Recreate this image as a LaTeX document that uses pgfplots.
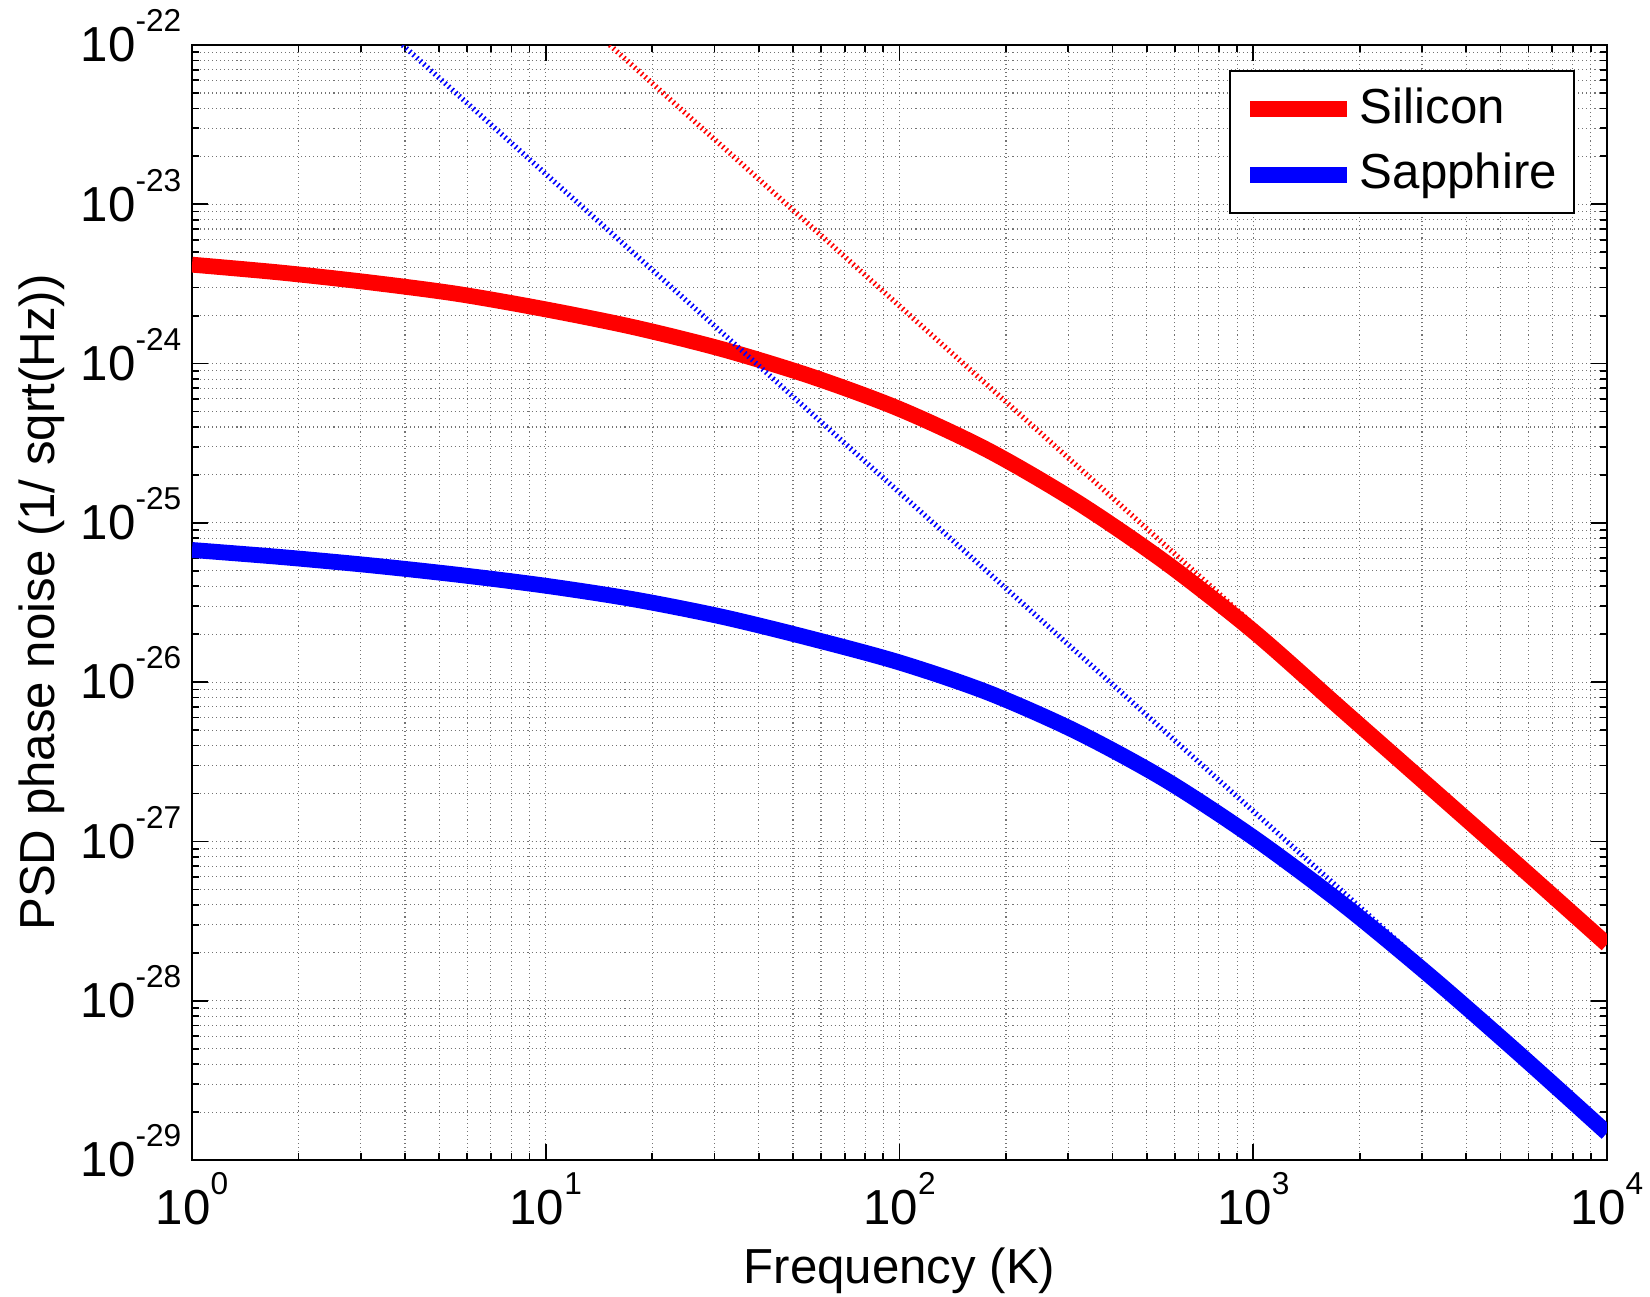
\documentclass[border=0pt]{standalone}
\usepackage{pgfplots}
\pgfplotsset{compat=1.18}
\usepackage{fontspec}
\setmainfont{Liberation Sans}
\newcommand{\tl}[1]{10\raisebox{3mm}{\fontsize{9}{9}\selectfont #1}}
\begin{document}
\begin{tikzpicture}
\useasboundingbox (-1.92cm,-1.37cm) rectangle (14.58cm,11.60cm);
\begin{axis}[
  xmode=log, ymode=log,
  scale only axis, width=14.15cm, height=11.15cm,
  xmin=1, xmax=10000, ymin=1e-29, ymax=1e-22,
  xtick={1,10,100,1000,10000},
  xticklabels={\tl{0},\tl{1},\tl{2},\tl{3},\tl{4}},
  ytick={1e-29,1e-28,1e-27,1e-26,1e-25,1e-24,1e-23,1e-22},
  yticklabels={\tl{-29},\tl{-28},\tl{-27},\tl{-26},\tl{-25},\tl{-24},\tl{-23},\tl{-22}},
  tick align=inside, tick pos=both,
  xticklabel pos=lower, yticklabel pos=left,
  major tick length=0.16cm, minor tick length=0.07cm,
  grid=both,
  major grid style={black!55, line width=0.3pt, dash pattern=on 0.3pt off 0.85pt},
  minor grid style={black!55, line width=0.3pt, dash pattern=on 0.3pt off 0.85pt},
  axis line style={line width=0.6pt},
  every tick/.style={black, line width=0.5pt},
  tick label style={font=\fontsize{14}{17}\selectfont},
  yticklabel style={inner xsep=1mm, yshift=0.9mm},
  xlabel={Frequency (K)},
  ylabel={PSD phase noise (1/ sqrt(Hz))},
  label style={font=\fontsize{14}{17}\selectfont},
  xlabel style={at={(axis description cs:0.5,-0.1103)}, anchor=base},
  ylabel style={at={(axis description cs:-0.0975,0.5)}, anchor=base},
  legend style={at={(0.9774,0.978)}, anchor=north east, draw=black, line width=0.6pt, fill=white,
    font=\fontsize{14}{17}\selectfont, inner xsep=1.2mm, inner ysep=1.2mm, row sep=1.2mm,
    nodes={inner sep=0.5mm, text depth=0.22em}},
  legend cell align=left,
  legend image code/.code={\draw[#1] (0cm,0cm) -- (0.97cm,0cm);},
]
\addplot[red, line width=4.5pt, smooth] coordinates {
(1,4.18e-24) (1.778,3.73e-24) (3.162,3.24e-24) (5.623,2.74e-24) (10,2.19e-24)
(17.78,1.69e-24) (31.62,1.23e-24) (56.23,8.32e-25) (100,5.19e-25) (177.8,2.86e-25)
(316.2,1.36e-25) (562.3,5.69e-26) (1000,2.09e-26) (1778,6.76e-27) (3162,2.19e-27)
(5623,7.08e-28) (10000,2.26e-28)
};
\addlegendentry{Silicon}
\addplot[blue, line width=4.5pt, smooth] coordinates {
(1,6.76e-26) (1.778,6.11e-26) (3.162,5.43e-26) (5.623,4.73e-26) (10,4.03e-26)
(17.78,3.31e-26) (31.62,2.57e-26) (56.23,1.88e-26) (100,1.33e-26) (177.8,8.61e-27)
(316.2,4.90e-27) (562.3,2.45e-27) (1000,1.06e-27) (1778,4.10e-28) (3162,1.43e-28)
(5623,4.68e-29) (10000,1.48e-29)
};
\addlegendentry{Sapphire}
\addplot[red, line width=1.5pt, dash pattern=on 0.45pt off 0.9pt, forget plot] coordinates {
(15.17,1e-22) (10000,2.3e-28)
};
\addplot[blue, line width=1.5pt, dash pattern=on 0.45pt off 0.9pt, forget plot] coordinates {
(3.94,1e-22) (10000,1.55e-29)
};
\end{axis}
\end{tikzpicture}
\end{document}
